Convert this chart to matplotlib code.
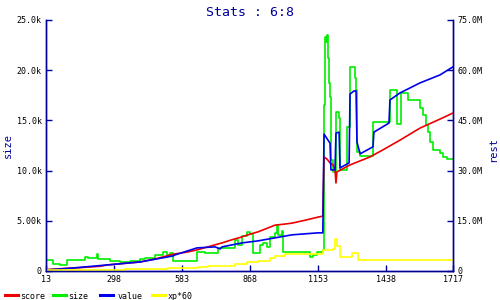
import matplotlib
matplotlib.use('Agg')
import matplotlib.pyplot as plt
from matplotlib.lines import Line2D

NAVY = '#000099'
MONO = 'DejaVu Sans Mono'

x_ticks = [13, 298, 583, 868, 1153, 1438, 1717]
size_ticks = [0, 5000, 10000, 15000, 20000, 25000]
size_tick_labels = ['0', '5.00k', '10.0k', '15.0k', '20.0k', '25.0k']
rest_ticks = [0, 15, 30, 45, 60, 75]
rest_tick_labels = ['0', '15.0M', '30.0M', '45.0M', '60.0M', '75.0M']

# size (left axis, units)
size_x = [13, 30, 42, 72, 101, 176, 189, 227, 231, 281, 323, 365, 407, 427, 469,
          503, 520, 532, 545, 645, 679, 733, 804, 817, 834, 855, 867, 880, 909, 922,
          939, 951, 972, 981, 985, 1001, 1006, 1118, 1131, 1148, 1173, 1177, 1181, 1185, 1189,
          1194, 1198, 1202, 1206, 1215, 1227, 1240, 1244, 1273, 1286, 1307, 1311, 1315, 1328, 1382,
          1453, 1482, 1499, 1528, 1579, 1591, 1604, 1612, 1621, 1633, 1663, 1675, 1692, 1717]
size_y = [1100, 1100, 700, 600, 1100, 1390, 1300, 1690, 1200, 1000, 900, 1000, 1200, 1300, 1590,
          1890, 1590, 1790, 1000, 1890, 1790, 2290, 3090, 2590, 3490, 3880, 3690, 1790, 2590, 2790,
          2390, 3390, 3790, 4580, 3590, 3980, 1890, 1390, 1590, 1890, 2090, 16530, 23310, 22810, 23510,
          21220, 18730, 17330, 11060, 9860, 15840, 15240, 10060, 14340, 20320, 19220, 18030, 11850, 11450, 14840,
          18030, 14640, 17730, 17030, 16240, 15540, 14540, 13840, 12850, 12050, 11750, 11350, 11160, 11160]

# score, value, xp*60 (right axis, millions)
score_x = [13, 80, 155, 239, 268, 330, 407, 470, 545, 553, 600, 645, 700, 750, 790,
           834, 867, 901, 940, 972, 1010, 1043, 1100, 1152, 1172, 1177, 1190, 1202, 1215, 1223,
           1227, 1231, 1286, 1370, 1424, 1495, 1579, 1663, 1717]
score_y = [0.4, 0.7, 1.0, 1.4, 1.8, 2.2, 2.7, 3.6, 5.0, 5.1, 5.6, 6.3, 7.4, 8.4, 9.3,
           10.2, 11.0, 11.7, 12.8, 13.7, 14.0, 14.3, 15.2, 16.1, 16.4, 34.1, 33.4, 32.3, 31.7, 30.2,
           26.3, 29.6, 31.7, 34.1, 36.2, 39.1, 42.7, 45.4, 47.2]

value_x = [13, 126, 268, 407, 545, 553, 645, 721, 742, 750, 834, 901, 972, 1043, 1152,
           1172, 1177, 1202, 1206, 1223, 1227, 1240, 1244, 1282, 1286, 1303, 1311, 1315, 1328, 1382,
           1386, 1449, 1453, 1495, 1579, 1663, 1717]
value_y = [0.3, 0.9, 1.8, 2.7, 4.5, 4.8, 6.9, 7.2, 6.6, 7.2, 8.4, 9.0, 9.9, 10.8, 11.4,
           11.4, 40.9, 38.2, 30.2, 30.2, 41.2, 41.5, 30.8, 32.3, 52.9, 53.8, 53.8, 38.5, 35.0, 37.1,
           41.5, 44.2, 51.1, 53.2, 56.2, 58.6, 61.0]

xp_x = [13, 344, 524, 649, 691, 804, 855, 901, 951, 972, 1014, 1173, 1215, 1223, 1231, 1244, 1294, 1320, 1717]
xp_y = [0.2, 0.6, 0.9, 1.2, 1.5, 2.1, 2.7, 3.0, 3.9, 4.5, 5.1, 6.3, 6.6, 9.6, 7.5, 4.2, 5.4, 3.3, 3.3]

legend_names = ['score', 'size', 'value', 'xp*60']
legend_colors = ['#ee0000', '#00ee00', '#0000ee', '#ffff00']


def style_axis(axis, side):
    for name, spine in axis.spines.items():
        spine.set_color(NAVY)
        spine.set_linewidth(1)
    axis.spines['top'].set_visible(False)
    axis.tick_params(axis='both', direction='in', length=4, width=1, color=NAVY,
                     labelsize=6, labelcolor='black', pad=3)
    for lbl in axis.get_xticklabels() + axis.get_yticklabels():
        lbl.set_family(MONO)


fig = plt.figure(figsize=(5, 3), dpi=100)
ax = fig.add_axes([0.092, 0.0967, 0.814, 0.8367])
ax2 = ax.twinx()

ax.plot(size_x, size_y, color=legend_colors[1], lw=1.2, drawstyle='steps-post')
ax2.plot(score_x, score_y, color=legend_colors[0], lw=1.2)
ax2.plot(value_x, value_y, color=legend_colors[2], lw=1.2)
ax2.plot(xp_x, xp_y, color=legend_colors[3], lw=1.2, drawstyle='steps-post')

ax.set_xlim(13, 1717)
ax.set_ylim(0, 25000)
ax2.set_ylim(0, 75)
ax.set_xticks(x_ticks)
ax.set_xticklabels([str(t) for t in x_ticks])
ax.set_yticks(size_ticks)
ax.set_yticklabels(size_tick_labels)
ax2.set_yticks(rest_ticks)
ax2.set_yticklabels(rest_tick_labels)
style_axis(ax, 'left')
style_axis(ax2, 'right')

fig.text(0.5, 0.96, 'Stats : 6:8', ha='center', va='center', color=NAVY, fontsize=9.5, family=MONO)
fig.text(0.016, 0.515, 'size', ha='center', va='center', rotation=90, color=NAVY, fontsize=7.5, family=MONO)
fig.text(0.986, 0.503, 'rest', ha='center', va='center', rotation=90, color=NAVY, fontsize=7.5, family=MONO)

# legend drawn by hand along the bottom
line_starts = [5, 53, 100, 152]
text_starts = [20, 68, 118, 168]
for x0, tx, name, col in zip(line_starts, text_starts, legend_names, legend_colors):
    fig.add_artist(Line2D([x0 / 500, (x0 + 13) / 500], [0.0167, 0.0167], color=col, lw=2.2,
                          transform=fig.transFigure))
    fig.text(tx / 500, 0.0133, name, ha='left', va='center', fontsize=6, family=MONO, color='black')

fig.savefig('out.png', dpi=100)
